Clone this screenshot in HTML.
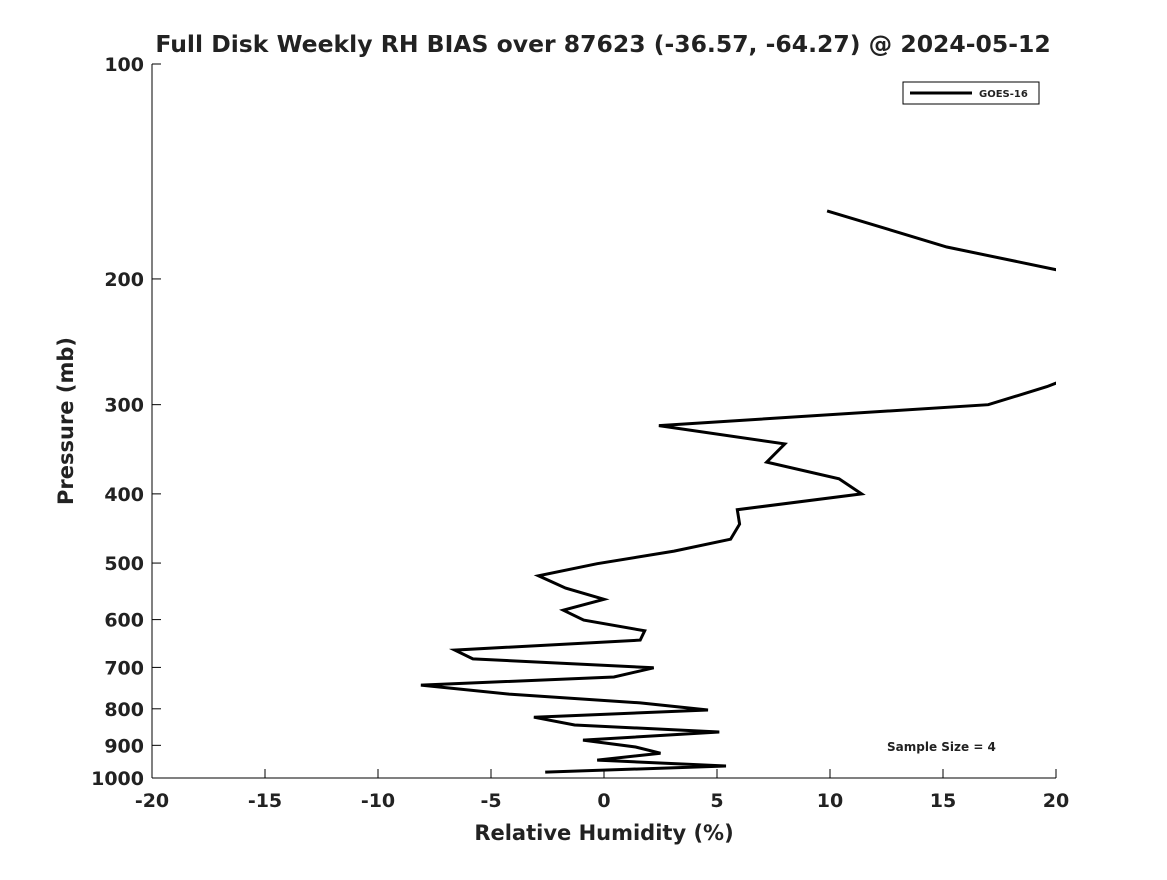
<!DOCTYPE html>
<html><head><meta charset="utf-8"><style>
body{margin:0;background:#fff;font-family:"Liberation Sans","DejaVu Sans",sans-serif}
svg text{font-family:"DejaVu Sans","Liberation Sans",sans-serif;font-weight:bold;fill:#222}
</style></head><body>
<svg id="chart" width="1167" height="875" xmlns="http://www.w3.org/2000/svg">
<rect width="1167" height="875" fill="#fff"/>
<text x="603" y="52" text-anchor="middle" font-size="23.5">Full Disk Weekly RH BIAS over 87623 (-36.57, -64.27) @ 2024-05-12</text>
<defs><clipPath id="clip"><rect x="152" y="64" width="904" height="714"/></clipPath></defs>
<g id="axes"></g>
<g id="series" clip-path="url(#clip)"></g>
<g>
<rect x="903" y="82" width="136" height="22" fill="#fff" stroke="#000" stroke-width="1"/>
<line x1="910" y1="93" x2="972" y2="93" stroke="#000" stroke-width="3"/>
<text x="979" y="97" font-size="10">GOES-16</text>
</g>
<text x="887" y="751" font-size="12">Sample Size = 4</text>
<text x="604" y="840" text-anchor="middle" font-size="21">Relative Humidity (%)</text>
<text transform="translate(73,421) rotate(-90)" text-anchor="middle" font-size="21">Pressure (mb)</text>
</svg>
<script>
const xTicks=[-20,-15,-10,-5,0,5,10,15,20];
const yTicks=[100,200,300,400,500,600,700,800,900,1000];
const seg1RH=[9.87,15.17,20.3];
const seg1P=[160.6,180.4,195];
const seg2RH=[21,19.6,17.0,2.43,8.0,7.2,10.4,11.4,5.9,6.0,5.6,3.1,-0.3,-2.9,-1.7,0,-1.8,-0.9,1.8,1.6,-6.6,-5.8,2.2,0.44,-8.1,-4.2,1.6,4.6,-3.1,-1.3,5.1,-0.93,1.4,2.5,-0.3,5.4,-2.6];
const seg2P=[272,283,300,321,340.5,361,381,400,421,441,463,481,501,521,542,562,582,601,622,641,662,681,701,722,741,763,785,803,822,843,862,885,905,923,944,962,981];
const L=152,R=1056,T=64,B=778;
const xs=v=>L+(v+20)/40*(R-L);
const ys=p=>T+(Math.log10(p)-2)*(B-T);
const NS="http://www.w3.org/2000/svg";
const axes=document.getElementById('axes');
function mk(tag,attrs,parent){const e=document.createElementNS(NS,tag);for(const k in attrs)e.setAttribute(k,attrs[k]);parent.appendChild(e);return e;}
let a=mk('line',{x1:L,y1:T,x2:L,y2:B,stroke:'#000','stroke-width':1},axes);


a=mk('line',{x1:L,y1:B,x2:R,y2:B,stroke:'#000','stroke-width':1},axes);


xTicks.forEach(v=>{
 const t=mk('line',{x1:xs(v),y1:B,x2:xs(v),y2:B-9,stroke:'#000'},axes);
 
 
 const tx=mk('text',{x:xs(v),y:B+29,'text-anchor':'middle','font-size':19},axes);
 tx.textContent=v;
 
 
});
yTicks.forEach(p=>{
 const t=mk('line',{x1:L,y1:ys(p),x2:L+9,y2:ys(p),stroke:'#000'},axes);
 
 
 const tx=mk('text',{x:L-8,y:ys(p)+7,'text-anchor':'end','font-size':19},axes);
 tx.textContent=p;
 
 
});
const series=document.getElementById('series');
[[seg1RH,seg1P],[seg2RH,seg2P]].forEach((s,i)=>{
 const pts=s[0].map((v,j)=>xs(v).toFixed(1)+','+ys(s[1][j]).toFixed(1)).join(' ');
 const pl=mk('polyline',{points:pts,fill:'none',stroke:'#000','stroke-width':3,'stroke-linejoin':'miter'},series);
 
 
});
</script>
</body></html>
